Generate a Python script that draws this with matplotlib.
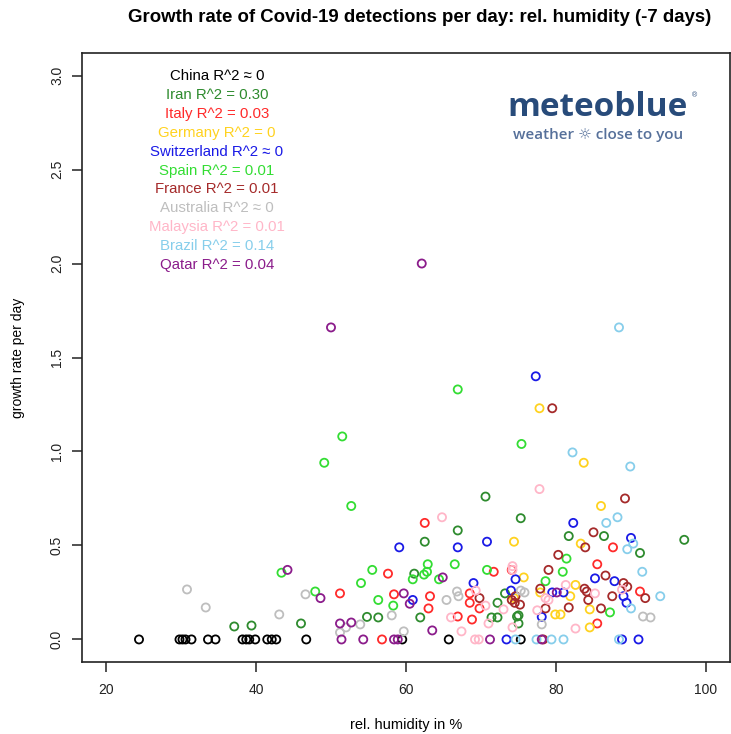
import matplotlib
matplotlib.use("Agg")
import matplotlib.pyplot as plt

plt.rcParams["font.family"] = ["Liberation Sans", "DejaVu Sans"]

# values (humidity %, growth rate per day)
china_x = [24.4, 29.8, 30.2, 30.6, 31.4, 33.6, 34.6, 38.2, 38.7, 39.1, 39.9,
           41.5, 42.1, 42.7, 46.7, 59.5, 65.7, 75.3]
china_y = [0] * 18

iran_x = [37.1, 39.4, 46.0, 54.8, 56.3, 61.1, 61.9, 62.5, 66.9, 70.6, 71.4,
          72.2, 72.2, 73.2, 74.8, 75.0, 75.0, 75.3, 81.7, 86.4, 91.2, 97.1]
iran_y = [0.069, 0.074, 0.085, 0.12, 0.117, 0.35, 0.117, 0.52, 0.58, 0.76, 0.117,
          0.117, 0.195, 0.245, 0.122, 0.128, 0.085, 0.645, 0.55, 0.55, 0.46, 0.53]

italy_x = [51.2, 56.8, 57.6, 58.4, 62.5, 63.2, 63.0, 66.9, 68.5, 68.5, 68.8,
           69.8, 71.7, 74.1, 85.5, 87.6, 85.5, 91.2]
italy_y = [0.245, 0, 0.35, 0.24, 0.62, 0.23, 0.165, 0.122, 0.245, 0.195, 0.106,
           0.165, 0.36, 0.37, 0.40, 0.49, 0.085, 0.255]

germany_x = [74.4, 77.8, 83.7, 86.0, 83.3, 74.4, 75.7, 77.9, 82.6, 81.9, 84.5,
             79.9, 80.6, 84.5]
germany_y = [0.52, 1.23, 0.94, 0.71, 0.51, 0.22, 0.33, 0.25, 0.29, 0.23, 0.16,
             0.133, 0.133, 0.064]

swiss_x = [59.1, 60.9, 66.9, 69.0, 70.8, 73.4, 74.0, 74.6, 77.3, 78.1, 79.5,
           81.0, 82.3, 85.2, 87.8, 88.8, 89.0, 89.4, 90.0, 91.0]
swiss_y = [0.49, 0.21, 0.49, 0.30, 0.52, 0, 0.26, 0.32, 1.40, 0.12, 0.25,
           0.25, 0.62, 0.325, 0.31, 0, 0.23, 0.195, 0.54, 0]

spain_x = [43.4, 47.9, 49.1, 51.5, 52.7, 54.0, 55.5, 56.3, 58.3, 60.9, 62.4,
           62.8, 62.9, 64.4, 66.5, 66.9, 70.8, 75.4, 78.6, 80.9, 81.4, 87.2]
spain_y = [0.355, 0.255, 0.94, 1.08, 0.71, 0.30, 0.37, 0.21, 0.18, 0.32, 0.345,
           0.36, 0.40, 0.32, 0.40, 1.33, 0.37, 1.04, 0.31, 0.36, 0.43, 0.144]

france_x = [69.8, 74.6, 74.5, 74.1, 75.2, 77.9, 78.6, 79.0, 79.5, 80.3, 81.7,
            83.9, 83.8, 84.1, 84.3, 85.0, 86.0, 86.6, 87.5, 89.0, 89.5, 89.2,
            91.9, 78.3]
france_y = [0.22, 0.23, 0.195, 0.21, 0.185, 0.27, 0.165, 0.37, 1.23, 0.45, 0.17,
            0.49, 0.27, 0.255, 0.21, 0.57, 0.165, 0.34, 0.23, 0.30, 0.28, 0.75,
            0.22, 0]

australia_x = [30.8, 33.3, 43.1, 46.6, 51.2, 52.0, 53.9, 58.1, 59.7, 65.4, 66.8,
               67.0, 75.3, 75.8, 78.1, 91.6, 92.6]
australia_y = [0.266, 0.17, 0.133, 0.24, 0.037, 0.064, 0.08, 0.128, 0.043, 0.21,
               0.255, 0.23, 0.26, 0.25, 0.08, 0.122, 0.117]

malaysia_x = [64.8, 66.0, 67.4, 69.2, 69.7, 69.3, 70.6, 71.0, 74.2, 74.2, 74.2,
              73.0, 77.5, 77.8, 78.6, 79.0, 81.3, 82.6, 85.2, 88.8]
malaysia_y = [0.65, 0.117, 0.043, 0, 0, 0.26, 0.18, 0.085, 0.37, 0.39, 0.064,
              0.16, 0.155, 0.80, 0.22, 0.21, 0.29, 0.058, 0.245, 0.265]

brazil_x = [74.6, 77.4, 79.4, 81.0, 88.4, 82.2, 86.7, 88.2, 88.4, 89.9, 90.3,
            89.5, 91.5, 93.9, 90.0]
brazil_y = [0, 0, 0, 0, 0, 0.995, 0.62, 0.65, 1.66, 0.92, 0.51,
            0.48, 0.36, 0.23, 0.165]

qatar_x = [44.2, 48.6, 50.0, 51.2, 51.4, 52.7, 54.3, 58.4, 58.9, 59.7, 60.5,
           62.1, 63.5, 64.9, 71.2, 78.1, 80.1]
qatar_y = [0.37, 0.22, 1.66, 0.085, 0, 0.09, 0, 0, 0, 0.245, 0.19,
           2.0, 0.048, 0.33, 0, 0, 0.25]

countries = ["China", "Iran", "Italy", "Germany", "Switzerland", "Spain",
             "France", "Australia", "Malaysia", "Brazil", "Qatar"]
r2_labels = ["\u2248 0", "= 0.30", "= 0.03", "= 0", "\u2248 0", "= 0.01",
             "= 0.01", "\u2248 0", "= 0.01", "= 0.14", "= 0.04"]
colors = ["black", "#2E8B2E", "#FF2A2A", "#FFD21F", "#1A1AE6", "#33DD33",
          "#A52A2A", "#BEBEBE", "#FFB6C8", "#87CEEB", "#8B1C8B"]
series = [(china_x, china_y), (iran_x, iran_y), (italy_x, italy_y),
          (germany_x, germany_y), (swiss_x, swiss_y), (spain_x, spain_y),
          (france_x, france_y), (australia_x, australia_y),
          (malaysia_x, malaysia_y), (brazil_x, brazil_y), (qatar_x, qatar_y)]

W, H = 731, 734
fig = plt.figure(figsize=(W / 100, H / 100), dpi=100)
ax = fig.add_axes([82 / W, 1 - 662 / H, (730 - 82) / W, (662 - 53) / H])

for (xs, ys), col in zip(series, colors):
    ax.scatter(xs, ys, s=34, facecolors="none", edgecolors=col, linewidths=1.3)

ax.set_xlim(16.8, 103.2)
ax.set_ylim(-0.12, 3.12)
ax.set_xticks([20, 40, 60, 80, 100])
ax.set_yticks([0, 0.5, 1.0, 1.5, 2.0, 2.5, 3.0])
ax.set_yticklabels(["0.0", "0.5", "1.0", "1.5", "2.0", "2.5", "3.0"])
ax.tick_params(axis="both", direction="out", length=7, width=1.1,
               labelsize=10, colors="#222222")
ax.tick_params(axis="x", pad=8)
ax.tick_params(axis="y", pad=6)
for lab in ax.get_yticklabels():
    lab.set_rotation(90)
    lab.set_va("center")
for sp in ax.spines.values():
    sp.set_linewidth(1.2)
    sp.set_color("#222222")

fig.text(420 / W, 1 - 18 / H,
         "Growth rate of Covid-19 detections per day: rel. humidity (-7 days)",
         ha="center", va="center", fontsize=13.4, fontweight="bold")
fig.text(406 / W, 1 - 725 / H, "rel. humidity in %", ha="center", va="center",
         fontsize=10.5)
fig.text(18 / W, 1 - 358 / H, "growth rate per day", ha="center", va="center",
         rotation=90, fontsize=10)

for i, (name, r2, col) in enumerate(zip(countries, r2_labels, colors)):
    fig.text(217 / W, 1 - (76 + i * 18.9) / H, f"{name} R^2 {r2}",
             ha="center", va="center", fontsize=10.8, color=col)

# meteoblue logo as text
fig.text(598 / W, 1 - 107 / H, "meteoblue", ha="center", va="center",
         fontsize=24, fontweight="bold", color="#284B7A",
         family=["Open Sans", "DejaVu Sans"])
fig.text(695 / W, 1 - 96 / H, "\u00ae", ha="center", va="center",
         fontsize=5, color="#284B7A")
fig.text(598 / W, 1 - 135 / H, "weather \u263c close to you", ha="center",
         va="center", fontsize=11, fontweight="semibold", color="#56709A",
         family=["Open Sans", "DejaVu Sans"])

fig.savefig("out.png", dpi=100)
